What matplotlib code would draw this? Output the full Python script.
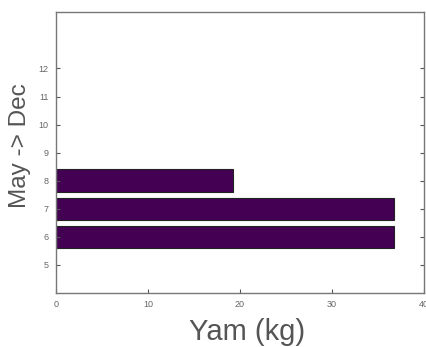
import matplotlib
matplotlib.use("Agg")
import matplotlib.pyplot as plt

# Monthly yam harvest (months 6-8)
months = [6, 7, 8]
yam_kg = [36.7, 36.7, 19.2]
y_ticks = [5, 6, 7, 8, 9, 10, 11, 12]
x_ticks = [0, 10, 20, 30, 40]

plt.rcParams['font.family'] = ['Liberation Sans', 'DejaVu Sans']

fig = plt.figure(figsize=(4.27, 3.47), dpi=100)
ax = fig.add_axes([55.7 / 427, 1 - 293 / 347, (424.3 - 55.7) / 427, (293 - 12.3) / 347])

ax.barh(months, yam_kg, height=0.8, color='#440154', edgecolor='#222222', linewidth=0.8)

ax.set_xlim(0, 40)
ax.set_ylim(4, 14)
ax.set_xticks(x_ticks)
ax.set_yticks(y_ticks)
ax.tick_params(axis='both', direction='in', length=3, width=0.8, colors='#555555',
               labelsize=6.5, labelcolor='#666666', pad=5)
ax.tick_params(axis='y', right=True)
for s in ax.spines.values():
    s.set_color('#777777')
    s.set_linewidth(1.0)

ax.set_xlabel('Yam (kg)', fontsize=21, color='#555555')
ax.xaxis.set_label_coords(0.52, -0.09, transform=ax.transAxes)
ax.xaxis.label.set_va('top')
ax.set_ylabel('May -> Dec', fontsize=17.5, color='#555555')
ax.yaxis.set_label_coords(-0.097, 0.525, transform=ax.transAxes)
ax.yaxis.label.set_va('center')

fig.savefig('out.png', dpi=100)
